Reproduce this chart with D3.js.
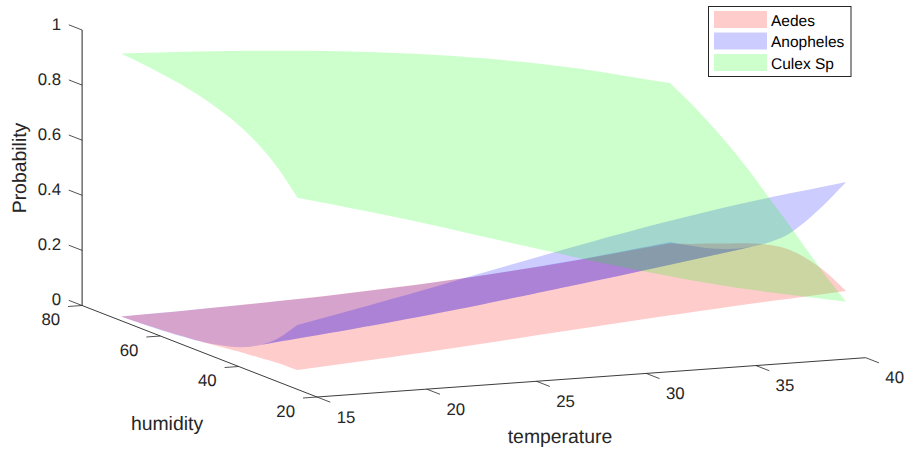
<!DOCTYPE html>
<html><head><meta charset="utf-8">
<script src="https://cdn.jsdelivr.net/npm/d3@7"></script>
<style>html,body{margin:0;padding:0;background:#fff}svg{display:block}text{font-family:"Liberation Sans",Arial,sans-serif;fill:#262626;text-rendering:geometricPrecision}</style>
</head><body><svg id="c" width="906" height="452"></svg>
<script>
const temperatureGrid=[15,20,25,30,35,40];
const humidityGrid=[25,30,35,40,45,50,55,60,65,70];
const aedes=[
[.070,.097,.128,.160,.189,.214],
[.068,.098,.135,.176,.216,.253],
[.061,.092,.131,.178,.228,.276],
[.054,.082,.121,.170,.227,.284],
[.045,.070,.105,.153,.210,.272],
[.037,.058,.089,.131,.187,.249],
[.030,.047,.073,.111,.161,.221],
[.024,.038,.060,.092,.137,.193],
[.019,.031,.049,.076,.114,.164],
[.015,.025,.040,.062,.095,.138]];
const anopheles=[
[.234,.315,.402,.485,.556,.610],
[.157,.221,.296,.374,.448,.509],
[.104,.152,.213,.282,.352,.416],
[.070,.105,.152,.210,.273,.336],
[.050,.076,.113,.162,.219,.279],
[.036,.057,.086,.126,.177,.235],
[.028,.044,.068,.102,.147,.201],
[.022,.035,.055,.085,.125,.176],
[.018,.029,.046,.072,.109,.158],
[.015,.025,.039,.062,.096,.142]];
const culex=[
[.696,.588,.470,.355,.255,.175],
[.776,.681,.569,.450,.336,.238],
[.834,.756,.656,.540,.420,.308],
[.876,.813,.727,.620,.500,.380],
[.905,.854,.781,.685,.571,.448],
[.927,.886,.825,.742,.637,.517],
[.943,.909,.859,.787,.693,.578],
[.954,.927,.885,.823,.739,.631],
[.963,.940,.905,.852,.778,.679],
[.970,.951,.921,.876,.810,.720]];
const seriesNames=["Aedes","Anopheles","Culex Sp"];
const seriesColors=["#ff0000","#0000ff","#00ff00"];
const temperatureTicks=[15,20,25,30,35,40];
const humidityTicks=[20,40,60,80];
const probabilityTicks=[0,0.2,0.4,0.6,0.8,1];
const probabilityLabels=["0","0.2","0.4","0.6","0.8","1"];
const faceAlpha=0.2;

// oblique axonometric projection expressed as linear scales
const tx=d3.scaleLinear().domain([15,40]).range([0,548.7]);
const ty=d3.scaleLinear().domain([15,40]).range([0,-39.3]);
const hx=d3.scaleLinear().domain([20,80]).range([0,-234.9]);
const hy=d3.scaleLinear().domain([20,80]).range([0,-91.5]);
const pz=d3.scaleLinear().domain([0,1]).range([0,-275.5]);
const ORIGIN=[317,397];
const proj=(t,h,p)=>[ORIGIN[0]+tx(t)+hx(h),ORIGIN[1]+ty(t)+hy(h)+pz(p)];

const svg=d3.select("#c");
const seg=(g,a,b,w)=>g.append("line").attr("x1",a[0]).attr("y1",a[1]).attr("x2",b[0]).attr("y2",b[1]).attr("stroke","#262626").attr("stroke-width",w||1);

// axes
const ax=svg.append("g");
seg(ax,proj(15,20,0),proj(40,20,0),0.9);
seg(ax,proj(15,20,0),proj(15,80,0),0.9);
seg(ax,proj(15,80,0),proj(15,80,1),1);
const tickSize=16.8,titleSize=19.4;
temperatureTicks.forEach(t=>{seg(ax,proj(t,20,0),proj(t,16.6,0),0.8);
  const p=proj(t,20,0);
  ax.append("text").attr("x",p[0]+29).attr("y",p[1]+20).attr("text-anchor","middle").attr("dominant-baseline","central").attr("font-size",tickSize).text(t);});
humidityTicks.forEach(h=>{seg(ax,proj(15,h,0),proj(14.36,h,0),0.8);
  const p=proj(15,h,0);
  ax.append("text").attr("x",p[0]-22).attr("y",p[1]+14).attr("text-anchor","end").attr("dominant-baseline","central").attr("font-size",tickSize).text(h);});
probabilityTicks.forEach((v,i)=>{seg(ax,proj(15,80,v),proj(15,83.4,v),0.8);
  const p=proj(15,80,v);
  ax.append("text").attr("x",p[0]-21).attr("y",p[1]-6).attr("text-anchor","end").attr("dominant-baseline","central").attr("font-size",tickSize).text(probabilityLabels[i]);});

svg.append("text").attr("x",560).attr("y",437).attr("text-anchor","middle").attr("dominant-baseline","central").attr("font-size",titleSize).text("temperature");
svg.append("text").attr("x",167).attr("y",424).attr("text-anchor","middle").attr("dominant-baseline","central").attr("font-size",titleSize).text("humidity");
svg.append("text").attr("transform","translate(20,168) rotate(-90)").attr("text-anchor","middle").attr("dominant-baseline","central").attr("font-size",titleSize).text("Probability");

// smooth drawing of a read surface: Catmull-Rom through the grid values, like a curve generator
const SUB=6;
const cr=(a,b,c,d,u)=>0.5*(2*b+(c-a)*u+(2*a-5*b+4*c-d)*u*u+(3*b-a-3*c+d)*u*u*u);
function smoothLine(v){
  const at=i=>i<0?2*v[0]-v[1]:i>=v.length?2*v[v.length-1]-v[v.length-2]:v[i];
  const out=[];
  for(let i=0;i<v.length-1;i++)for(let k=0;k<SUB;k++)out.push(cr(at(i-1),at(i),at(i+1),at(i+2),k/SUB));
  out.push(v[v.length-1]);
  return out;
}
const fineT=smoothLine(temperatureGrid),fineH=smoothLine(humidityGrid);
function refine(z){
  const rows=z.map(smoothLine);
  const cols=d3.range(rows[0].length).map(j=>smoothLine(rows.map(r=>r[j])));
  return d3.range(fineH.length).map(i=>cols.map(c=>c[i]));
}
// quads grouped by facing, so the folded overlap doubles as in the source; [near sheet, far sheet]
function sheets(z0){
  const z=refine(z0),near=d3.path(),far=d3.path();
  let sign=0;
  for(let i=0;i<fineH.length-1;i++)for(let j=0;j<fineT.length-1;j++){
    let q=[[i,j],[i,j+1],[i+1,j+1],[i+1,j]].map(([a,b])=>proj(fineT[b],fineH[a],z[a][b]));
    const area=d3.polygonArea(q);
    if(!sign)sign=Math.sign(area)||1;
    const target=area*sign>=0?near:far;
    if(area<0)q=q.slice().reverse();
    q.forEach((c,k)=>k?target.lineTo(c[0],c[1]):target.moveTo(c[0],c[1]));
    target.closePath();
  }
  return [near.toString(),far.toString()];
}
const [aNear,aFar]=sheets(aedes),[bNear,bFar]=sheets(anopheles),[cNear,cFar]=sheets(culex);
// painter's order: lower sheets first
[[bFar,1],[aFar,0],[aNear,0],[bNear,1],[cNear,2],[cFar,2]].forEach(([d,s])=>{
  if(d)svg.append("path").attr("d",d).attr("fill",seriesColors[s]).attr("fill-opacity",faceAlpha);
});

// legend
const lg=svg.append("g");
lg.append("rect").attr("x",708.5).attr("y",6.5).attr("width",142.5).attr("height",70).attr("fill","#fff").attr("stroke","#262626").attr("stroke-width",1);
const rowY=d3.scalePoint().domain(seriesNames).range([19.5,62.5]);
seriesNames.forEach((n,s)=>{
  lg.append("rect").attr("x",714).attr("y",rowY(n)-8.5).attr("width",53).attr("height",17).attr("fill",seriesColors[s]).attr("fill-opacity",faceAlpha);
  lg.append("text").attr("x",771).attr("y",rowY(n)+1.5).attr("dominant-baseline","central").attr("font-size",15.5).attr("style","fill:#000").text(n);
});
</script></body></html>
